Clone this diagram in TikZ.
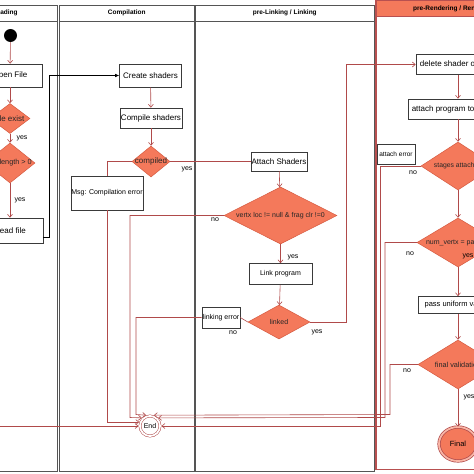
\documentclass[tikz,border=0pt]{standalone}
\usepackage{fontspec}
\setmainfont{Liberation Sans}
\usetikzlibrary{shapes.geometric,arrows.meta}
\definecolor{linecol}{HTML}{B04A4A}
\definecolor{dfill}{HTML}{F4795B}
\definecolor{dline}{HTML}{D65A40}
\definecolor{boxline}{HTML}{3A3A3A}
\definecolor{laneline}{HTML}{555555}
\definecolor{lanered}{HTML}{B85050}
\tikzset{
  lane/.style={draw=laneline, line width=0.7pt},
  hdr/.style={font=\fontsize{6.5}{7}\selectfont\bfseries, inner sep=0pt},
  actbox/.style={draw=boxline, fill=white, line width=0.6pt, inner sep=0pt, font=\fontsize{8}{9}\selectfont},
  smallbox/.style={actbox, font=\fontsize{7}{8}\selectfont},
  dec/.style={diamond, draw=dline, fill=dfill, line width=0.5pt, inner sep=0pt},
  dtext/.style={font=\fontsize{7}{8}\selectfont, inner sep=0pt, text=black!85},
  conn/.style={draw=linecol, line width=0.6pt, -{Straight Barb[length=3pt,width=5pt]}},
  plainconn/.style={draw=linecol, line width=0.6pt},
  blkconn/.style={draw=black, line width=0.6pt, -{Latex[length=4pt,width=3.5pt]}},
  lbl/.style={font=\fontsize{7}{8}\selectfont, inner sep=0pt},
  endc/.style={circle, draw=linecol, double=white, double distance=1.8pt, line width=0.5pt,
    minimum size=20pt, inner sep=0pt, outer sep=1.5pt, fill=white, font=\fontsize{7}{8}\selectfont},
  finc/.style={ellipse, draw=linecol, double=dfill!55!white, double distance=1.8pt, line width=0.7pt,
    fill=dfill, minimum width=38pt, minimum height=34pt, inner sep=0pt, font=\fontsize{7.5}{8}\selectfont},
  startc/.style={circle, fill=black, minimum size=13pt, inner sep=0pt}
}
\begin{document}
\begin{tikzpicture}[x=1pt,y=-1pt]
\useasboundingbox (0,0) rectangle (474,474);
\fill[white] (0,0) rectangle (474,474);
\clip (0,0) rectangle (474,474);

% swimlanes
\draw[lane] (-47.5,5) rectangle (57.5,471.5);
\draw[lane] (-47.5,21) -- (57.5,21);
\node[hdr] (h1) at (5,13) {Loading};
\draw[lane] (59.5,5) rectangle (194,471.5);
\draw[lane] (59.5,21) -- (194,21);
\node[hdr] (h2) at (126.75,13) {Compilation};
\draw[lane] (195.5,5) rectangle (374,471.5);
\draw[lane] (195.5,21) -- (374,21);
\node[hdr] (h3) at (284.75,13) {pre-Linking / Linking};
\draw[draw=lanered, fill=dfill, line width=0.8pt] (376,0) rectangle (540,16);
\draw[draw=lanered, line width=1.1pt] (376,0) rectangle (540,469.5);
\node[hdr, anchor=west] (h4) at (413,8.5) {pre-Rendering / Rendering};

% lane 1
\node[startc] (start) at (10.5,35.5) {};
\node[actbox, minimum width=64pt, minimum height=23pt] (of) at (10,75.5) {Open File};
\node[dec, minimum width=40pt, minimum height=30pt, label={[dtext, font=\fontsize{8}{9}\selectfont]center:file exist}] (dfe) at (10,118.5) {};
\node[dec, minimum width=50pt, minimum height=40pt, label={[dtext, font=\fontsize{7.3}{8}\selectfont]center:file length > 0}] (dlen) at (10,163) {};
\node[actbox, minimum width=66pt, minimum height=25pt] (rf) at (10,230.5) {Read file};

% lane 2
\node[actbox, minimum width=62pt, minimum height=23pt] (cs) at (150.5,75.5) {Create shaders};
\node[actbox, minimum width=62pt, minimum height=20pt] (cps) at (151,118) {Compile shaders};
\node[dec, minimum width=38pt, minimum height=31pt, label={[dtext, font=\fontsize{8}{9}\selectfont]center:compiled}] (dcomp) at (151,161.5) {};
\node[smallbox, minimum width=72pt, minimum height=34pt] (msg) at (107,193) {Msg: Compilation error};

% lane 3
\node[actbox, minimum width=56pt, minimum height=19pt] (att) at (279,161.5) {Attach Shaders};
\node[dec, minimum width=113pt, minimum height=57pt, label={[dtext]center:vertx loc != null \& frag clr !=0}] (dvx) at (280.5,215.5) {};
\node[smallbox, minimum width=63pt, minimum height=21pt] (lp) at (280.5,274) {Link program};
\node[dec, minimum width=62pt, minimum height=34pt, label={[dtext]center:linked}] (dlk) at (279,322) {};
\node[smallbox, minimum width=38pt, minimum height=21pt] (le) at (221,317.5) {linking error};

% lane 4
\node[actbox, minimum width=84pt, minimum height=20pt] (del) at (458,64.5) {delete shader objects};
\node[actbox, minimum width=100pt, minimum height=20pt] (atp) at (458,109) {attach program to pipeline};
\node[dec, minimum width=74pt, minimum height=48pt, label={[dtext, font=\fontsize{6.8}{8}\selectfont]center:stages attached}] (dst) at (458,166) {};
\node[smallbox, minimum width=38pt, minimum height=20pt, font=\fontsize{6.5}{8}\selectfont] (ae) at (396,154) {attach error};
\node[dec, minimum width=82pt, minimum height=49pt, label={[dtext]center:num\_vertx = params}] (dnum) at (458,242.5) {};
\node[smallbox, minimum width=80pt, minimum height=17pt, font=\fontsize{7.5}{8}\selectfont] (pu) at (458,305) {pass uniform values};
\node[dec, minimum width=80pt, minimum height=49pt, label={[dtext, font=\fontsize{7.3}{8}\selectfont]center:final validation}] (dfin) at (458,364.5) {};
\node[finc] (fin) at (458,444) {Final};

% end
\node[endc] (end) at (150,426) {End};

% connectors lane 1
\draw[conn] (start) -- (of);
\draw[conn] (of) -- (dfe);
\draw[conn] (dfe) -- (dlen);
\draw[conn] (dlen) -- (rf);
\draw[blkconn] ([yshift=-6.5pt]rf.east) -- ++(6,0) |- (cs.west);
\draw[conn] (0,426) -- (end.west);
\node[lbl] (y1) at (22,138.5) {yes};
\node[lbl] (y2) at (20,200) {yes};

% connectors lane 2
\draw[conn] (cs) -- (cps);
\draw[conn] (cps) -- (dcomp);
\draw[plainconn] (dcomp.west) -| (msg.north);
\draw[conn] (msg.south) |- (end.160);
\draw[plainconn] (dcomp.east) -- (att.west);
\node[lbl] (y3) at (187,169.5) {yes};

% connectors lane 3
\draw[conn] (att) -- (dvx);
\draw[conn] (dvx.west) -| (130,417.5) -- (end.135);
\node[lbl] (n1) at (215,219.5) {no};
\draw[conn] (dvx) -- (lp);
\node[lbl] (y4) at (293,257.5) {yes};
\draw[conn] (lp) -- (dlk);
\draw[plainconn] (dlk.west) -- (le.east);
\draw[conn] (le.west) -| (136,414.5) -- (end.110);
\node[lbl] (n2) at (233,332.5) {no};
\draw[conn] (dlk.east) -- (346,322) |- (del.west);
\node[lbl] (y5) at (317,332.5) {yes};

% connectors lane 4
\draw[conn] (del) -- (atp);
\draw[conn] (atp) -- (dst);
\draw[conn] (dst.west) -| (380,426) -- (end.east);
\node[lbl] (n3) at (413,172.5) {no};
\draw[conn] (dst) -- (dnum);
\draw[conn] (dnum.west) -| (385,417.5) -- (end.45);
\node[lbl] (n4) at (410,253.5) {no};
\node[lbl] (y6) at (468,256.5) {yes};
\draw[conn] (dnum) -- (pu);
\draw[conn] (pu) -- (dfin);
\draw[conn] (dfin.west) -| (390,414.5) -- (end.70);
\node[lbl] (n5) at (407,370.5) {no};
\draw[conn] (dfin) -- (fin);
\node[lbl] (y7) at (469,397.5) {yes};
\end{tikzpicture}
\end{document}
